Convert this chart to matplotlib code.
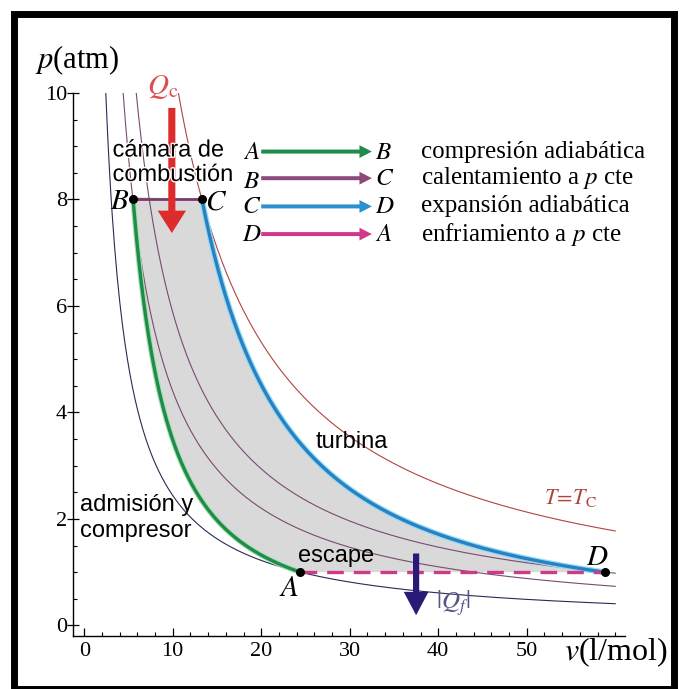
import numpy as np
import matplotlib
matplotlib.use("Agg")
import matplotlib.pyplot as plt
import matplotlib.patheffects as pe
from matplotlib.patches import Rectangle, FancyArrow, Polygon

plt.rcParams["mathtext.fontset"] = "stix"
SERIF = "Liberation Serif"
SANS = "Liberation Sans"

# Brayton cycle states: molar volume (l/mol) and pressure (atm)
state_names = ["A", "B", "C", "D"]
state_v = [24.4, 5.5, 13.3, 58.8]
state_p = [1.0, 8.0, 8.0, 1.0]
gamma = 1.4

# isotherms drawn through A, B, D and C (C is the hot one, T = Tc)
iso_through = ["A", "B", "D", "C"]
iso_colors = ["#2a2a55", "#7a4a70", "#7a4a70", "#b0453f"]
iso_v_end = 60.0

# legend rows: start state, end state, colour, description
legend_from = ["A", "B", "C", "D"]
legend_to = ["B", "C", "D", "A"]
legend_colors = ["#1f8c4c", "#8a4a7c", "#2b8fd0", "#d2388a"]
legend_texts = ["compresión adiabática", "calentamiento a $p$ cte",
                "expansión adiabática", "enfriamiento a $p$ cte"]
legend_p = [8.9, 8.4, 7.87, 7.35]

x_ticks = [0, 10, 20, 30, 40, 50]
y_ticks = [0, 2, 4, 6, 8, 10]

S = dict(zip(state_names, zip(state_v, state_p)))


def adiabat(v_from, p_from, v_to, n=200):
    k = p_from * v_from ** gamma
    v = np.linspace(v_from, v_to, n)
    return v, k / v ** gamma


fig = plt.figure(figsize=(6.84, 6.89), dpi=100)
ax = fig.add_axes([0.1063, 0.0769, 0.9137 - 0.1063, 0.865 - 0.0769])
ax.set_xlim(-1.3, 61.1)
ax.set_ylim(-0.2, 10.0)

# isotherms p v = const
for name, col in zip(iso_through, iso_colors):
    pv = S[name][0] * S[name][1]
    v = np.linspace(pv / 10.0, iso_v_end, 400)
    ax.plot(v, pv / v, color=col, lw=0.8, zorder=2)

# cycle paths
vAB, pAB = adiabat(S["A"][0], S["A"][1], S["B"][0])
vCD, pCD = adiabat(S["C"][0], S["C"][1], S["D"][0])
poly_v = np.concatenate([vAB, [S["C"][0]], vCD, [S["A"][0]]])
poly_p = np.concatenate([pAB, [S["C"][1]], pCD, [S["A"][1]]])
ax.add_patch(Polygon(np.column_stack([poly_v, poly_p]), closed=True,
                     facecolor="#d9d9d9", edgecolor="none", zorder=1))

ax.plot(vAB, pAB, color="#a8e0b0", lw=4.0, zorder=2.5, solid_capstyle="butt")
ax.plot(vAB, pAB, color="#1f8c4c", lw=2.4, zorder=3)
ax.plot(vCD, pCD, color="#8fdcf5", lw=4.2, zorder=2.5, solid_capstyle="butt")
ax.plot(vCD, pCD, color="#2a80c0", lw=2.4, zorder=3)
ax.plot([S["B"][0], S["C"][0]], [S["B"][1], S["C"][1]], color="#7a3a6c",
        lw=2.0, zorder=3)
ax.plot([S["A"][0], S["D"][0]], [S["A"][1], S["D"][1]], color="#cc3a88",
        lw=2.4, dashes=(5, 3), zorder=3)
ax.plot(state_v, state_p, "o", color="black", ms=5.5, zorder=4)

# state labels
lab_off = {"A": (-1.3, -0.30), "B": (-1.45, -0.03), "C": (1.6, -0.03),
           "D": (-0.8, 0.28)}
for name in state_names:
    dv, dp = lab_off[name]
    ax.text(S[name][0] + dv, S[name][1] + dp, f"${name}$", fontsize=21,
            ha="center", va="center", zorder=6)

# heat arrows
ax.add_patch(FancyArrow(9.9, 9.72, 0, 7.37 - 9.72, width=0.8, head_width=3.2,
                        head_length=0.42, length_includes_head=True,
                        color="#de2b2b", lw=0, zorder=5))
ax.text(8.9, 10.12, r"$Q_{\rm c}$", color="#d95050", fontsize=21,
        ha="center", va="center", clip_on=False, zorder=6)
ax.add_patch(FancyArrow(37.5, 1.35, 0, 0.19 - 1.35, width=0.7, head_width=2.8,
                        head_length=0.44, length_includes_head=True,
                        color="#2a1a78", lw=0, zorder=5))
ax.text(39.7, 0.42, r"$|Q_f|$", color="#555588", fontsize=18,
        ha="left", va="center", zorder=6)

# process legend
for a, b, col, txt, p in zip(legend_from, legend_to, legend_colors,
                             legend_texts, legend_p):
    pa = p - 0.06 if a == "B" else p
    ax.text(18.9, pa, f"${a}$", fontsize=18, ha="center", va="center", zorder=6)
    ax.add_patch(FancyArrow(20.0, p, 12.5, 0, width=0.075, head_width=0.24,
                            head_length=1.4, length_includes_head=True,
                            color=col, lw=0, zorder=5))
    ax.text(32.8, p, f"${b}$", fontsize=18, ha="left", va="center", zorder=6)
    ax.text(38.0, p, txt, fontsize=18, family=SERIF, ha="left", va="center",
            zorder=6)

# region labels
halo = [pe.withStroke(linewidth=2.0, foreground="white")]
ax.text(3.2, 8.92, "cámara de", fontsize=17, family=SANS, ha="left",
        va="center", zorder=6, path_effects=halo)
ax.text(3.2, 8.46, "combustión", fontsize=17, family=SANS, ha="left",
        va="center", zorder=6, path_effects=halo)
ax.text(26.1, 3.45, "turbina", fontsize=17, family=SANS, ha="left",
        va="center", zorder=6)
ax.text(-0.45, 2.27, "admisión y", fontsize=17, family=SANS, ha="left",
        va="center", zorder=6)
ax.text(-0.45, 1.77, "compresor", fontsize=17, family=SANS, ha="left",
        va="center", zorder=6)
ax.text(24.1, 1.3, "escape", fontsize=17, family=SANS, ha="left",
        va="center", zorder=6)
ax.text(51.9, 2.4, r"$T\!=\!T_{\rm C}$", color="#b0453f", fontsize=16,
        ha="left", va="center", zorder=6)

# axes styling
for side in ("top", "right"):
    ax.spines[side].set_visible(False)
for side in ("left", "bottom"):
    ax.spines[side].set_linewidth(1.0)
ax.set_xticks(x_ticks)
ax.set_yticks(y_ticks)
ax.set_xticks(np.arange(0, 61, 2), minor=True)
ax.set_yticks(np.arange(0, 10.01, 0.5), minor=True)
ax.tick_params(axis="x", which="major", direction="in", length=6, width=0.9,
               pad=4, labelsize=16)
ax.tick_params(axis="x", which="minor", direction="in", length=3, width=0.8)
ax.tick_params(axis="y", which="major", direction="inout", length=8, width=0.9,
               pad=0, labelsize=16)
ax.tick_params(axis="y", which="minor", direction="in", length=3, width=0.8)
for lbl in ax.get_xticklabels() + ax.get_yticklabels():
    lbl.set_family(SERIF)

ax.text(-5.6, 10.62, "$p$(atm)", fontsize=22, family=SERIF, ha="left",
        va="center", clip_on=False)
ax.text(54.2, -0.5, "$v$(l/mol)", fontsize=23, family=SERIF, ha="left",
        va="center", clip_on=False)

# black frame round the figure
fig.add_artist(Rectangle((13.5 / 684, 0.5 / 689), 660 / 684, 675 / 689,
                         transform=fig.transFigure, fill=False,
                         edgecolor="black", lw=5.0))

fig.savefig("out.png", dpi=100)
